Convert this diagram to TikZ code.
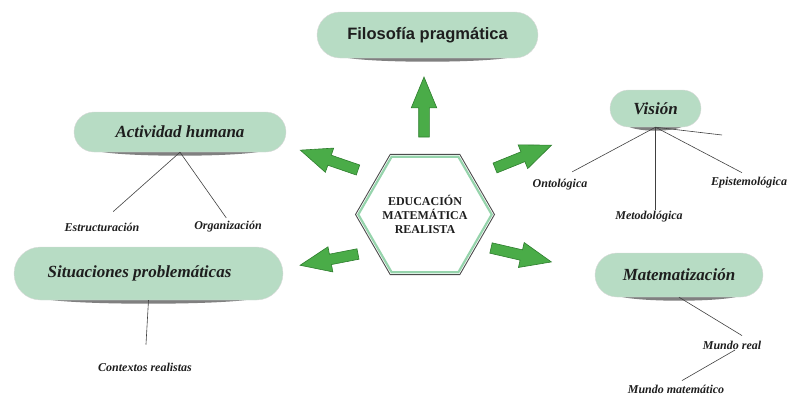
\documentclass[tikz,border=0pt]{standalone}
\usepackage{fontspec}
\setmainfont{Liberation Serif}
\newfontfamily\sansbold{Liberation Sans}
\usepackage{xcolor}
\usepackage{tikz}
\usetikzlibrary{calc,positioning,shapes.geometric,shapes.misc,shapes.arrows,backgrounds}

\definecolor{boxgreen}{RGB}{183,220,196}
\definecolor{hexgreen}{RGB}{150,212,172}
\definecolor{arrowgreen}{RGB}{74,172,72}
\definecolor{arrowdark}{RGB}{45,125,45}
\definecolor{textdark}{RGB}{30,30,30}

\tikzset{
  caja/.style={rounded rectangle, fill=boxgreen, draw=black!15, line width=0.4pt,
    inner sep=2pt, text=textdark, font=\fontsize{17}{20}\selectfont\bfseries\itshape},
  etiq/.style={inner sep=1pt, text=textdark, font=\fontsize{12}{14}\selectfont\bfseries\itshape},
  rama/.style={draw=black!75, line width=0.6pt},
  sombra/.style={fill=black!50},
  flecha/.style={single arrow, draw=arrowdark, fill=arrowgreen, line width=0.6pt,
    inner xsep=0pt, inner ysep=5pt, outer sep=0pt, minimum height=60pt,
    single arrow head extend=7.5pt, single arrow tip angle=45, anchor=tail},
  hexa/.style={regular polygon, regular polygon sides=6, inner sep=0pt, outer sep=0pt}
}

\newcommand{\sombra}[1]{%
  \fill[sombra] ($(#1.south west)+(-4pt,4pt)$) .. controls ($(#1.south west)+(0pt,-6pt)$)
    and ($(#1.south east)+(0pt,-6pt)$) .. ($(#1.south east)+(4pt,4pt)$) -- cycle;}

\begin{document}
\begin{tikzpicture}[x=1pt,y=-1pt]
\useasboundingbox (0,0) rectangle (789,397);

% boxes
\node[caja, minimum width=225pt, minimum height=46pt, font=\fontsize{16.5}{19}\selectfont\sansbold\bfseries] (fp) at (427.5,35) {Filosofía pragmática};
\node[caja, minimum width=216pt, minimum height=40pt] (ah) at (180,132) {Actividad humana};
\node[caja, minimum width=273pt, minimum height=53pt] (sp) at (148.5,273.5) {Situaciones problemáticas\hspace*{18pt}};
\node[caja, minimum width=95pt, minimum height=37pt] (vis) at (655.5,108.5) {Visión};
\node[caja, minimum width=172pt, minimum height=44pt] (mat) at (679,275) {Matematización};

\begin{scope}[on background layer]
\sombra{fp}
\sombra{ah}
\sombra{sp}
\sombra{vis}
\sombra{mat}
\end{scope}

% center
\node[hexa, draw=hexgreen, line width=2.2pt, minimum size=133.4pt] (erm-in) at (425,214.5) {};
\node[hexa, draw=black!70, line width=0.9pt, minimum size=138pt, align=center,
  text=textdark, font=\fontsize{12}{14}\selectfont\bfseries] (erm) at (425,214.5) {EDUCACIÓN\\MATEMÁTICA\\REALISTA};

% arrows
\node[flecha, rotate=90] (a-up) at (424,137) {};
\node[flecha, rotate=161, minimum height=61pt] (a-ul) at (358,170) {};
\node[flecha, rotate=22, minimum height=61pt] (a-ur) at (495,168) {};
\node[flecha, rotate=191, minimum height=59pt] (a-ll) at (358,254) {};
\node[flecha, rotate=-13, minimum height=62pt] (a-lr) at (491,248) {};

% labels
\node[etiq] (estr) at (102,227) {Estructuración};
\node[etiq] (org) at (228,227) {Organización};
\node[etiq] (ctx) at (145,367) {Contextos realistas};
\node[etiq] (ont) at (560,185) {Ontológica};
\node[etiq] (met) at (649,217) {Metodológica};
\node[etiq] (epi) at (749,183) {Epistemológica};
\node[etiq] (mr) at (732,345) {Mundo real};
\node[etiq] (mm) at (676,389) {Mundo matemático};
\coordinate (vis-cola) at (722,135);

\draw[rama, shorten >=15pt] (ah.south) -- (estr.north);
\draw[rama, shorten >=3pt] (ah.south) -- (org.north);
\draw[rama, shorten >=17pt] (sp.south) -- (ctx.north);
\draw[rama, shorten >=14pt] (vis.south) -- (ont.north);
\draw[rama] (vis.south) -- (vis.south |- met.north);
\draw[rama, shorten >=8pt] (vis.south) -- (epi.north);
\draw[rama] (vis.south) -- (vis-cola);
\draw[rama] (mat.south) -- ($(mr.north)+(10pt,4pt)$);
\draw[rama] ($(mr.center)+(3pt,-5pt)$) -- ($(mm.north)+(6pt,3pt)$);

\end{tikzpicture}
\end{document}
